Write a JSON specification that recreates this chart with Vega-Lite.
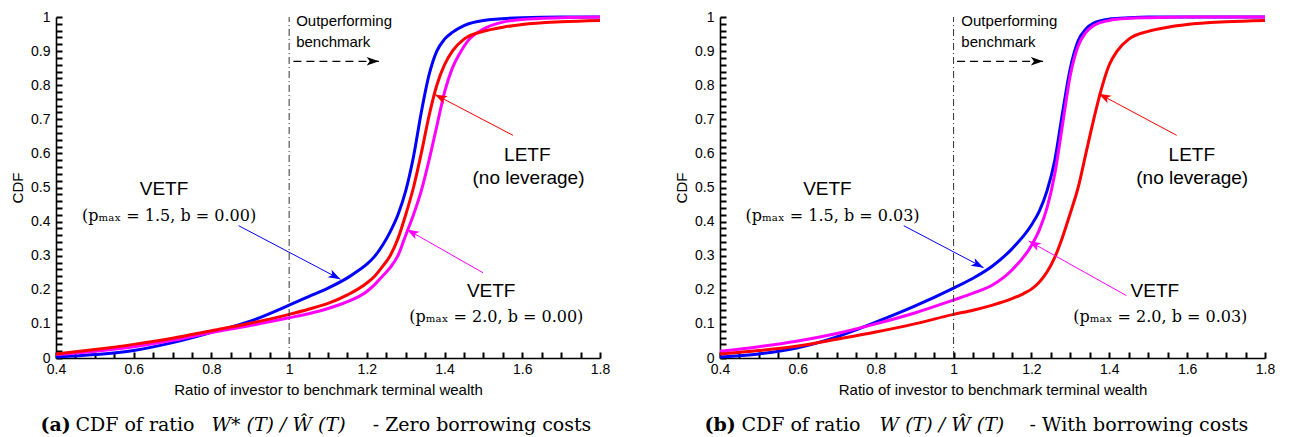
{
  "$schema": "https://vega.github.io/schema/vega-lite/v6.json",
  "background": "white",
  "padding": {"left": 10, "top": 10, "right": 0, "bottom": 0},
  "spacing": 120,
  "bounds": "flush",
  "config": {
    "view": {"stroke": null},
    "font": "Liberation Sans",
    "axis": {
      "grid": false,
      "domainColor": "black",
      "domainWidth": 1.6,
      "labelFont": "Liberation Sans",
      "labelFontSize": 14,
      "labelColor": "black",
      "labelOverlap": false,
      "labelFlush": false,
      "titleFont": "Liberation Sans",
      "titleFontSize": 15,
      "titleFontWeight": "normal",
      "titleColor": "black"
    }
  },
  "datasets": {
    "a_curves": [
      {"series":"VETF 1.5","ratio":0.4,"cdf":0.003},{"series":"VETF 1.5","ratio":0.5,"cdf":0.01},{"series":"VETF 1.5","ratio":0.6,"cdf":0.022},{"series":"VETF 1.5","ratio":0.7,"cdf":0.045},{"series":"VETF 1.5","ratio":0.8,"cdf":0.075},{"series":"VETF 1.5","ratio":0.9,"cdf":0.108},{"series":"VETF 1.5","ratio":1.0,"cdf":0.155},{"series":"VETF 1.5","ratio":1.05,"cdf":0.18},{"series":"VETF 1.5","ratio":1.1,"cdf":0.205},{"series":"VETF 1.5","ratio":1.15,"cdf":0.235},{"series":"VETF 1.5","ratio":1.18,"cdf":0.258},{"series":"VETF 1.5","ratio":1.2,"cdf":0.275},{"series":"VETF 1.5","ratio":1.22,"cdf":0.298},{"series":"VETF 1.5","ratio":1.24,"cdf":0.33},{"series":"VETF 1.5","ratio":1.26,"cdf":0.37},{"series":"VETF 1.5","ratio":1.28,"cdf":0.42},{"series":"VETF 1.5","ratio":1.3,"cdf":0.49},{"series":"VETF 1.5","ratio":1.32,"cdf":0.59},{"series":"VETF 1.5","ratio":1.34,"cdf":0.72},{"series":"VETF 1.5","ratio":1.36,"cdf":0.83},{"series":"VETF 1.5","ratio":1.38,"cdf":0.9},{"series":"VETF 1.5","ratio":1.4,"cdf":0.935},{"series":"VETF 1.5","ratio":1.42,"cdf":0.955},{"series":"VETF 1.5","ratio":1.45,"cdf":0.975},{"series":"VETF 1.5","ratio":1.5,"cdf":0.99},{"series":"VETF 1.5","ratio":1.6,"cdf":0.998},{"series":"VETF 1.5","ratio":1.7,"cdf":1.0},{"series":"VETF 1.5","ratio":1.8,"cdf":1.0},
      {"series":"VETF 2.0","ratio":0.4,"cdf":0.01},{"series":"VETF 2.0","ratio":0.5,"cdf":0.02},{"series":"VETF 2.0","ratio":0.6,"cdf":0.033},{"series":"VETF 2.0","ratio":0.7,"cdf":0.052},{"series":"VETF 2.0","ratio":0.8,"cdf":0.075},{"series":"VETF 2.0","ratio":0.9,"cdf":0.095},{"series":"VETF 2.0","ratio":1.0,"cdf":0.118},{"series":"VETF 2.0","ratio":1.05,"cdf":0.13},{"series":"VETF 2.0","ratio":1.1,"cdf":0.145},{"series":"VETF 2.0","ratio":1.15,"cdf":0.165},{"series":"VETF 2.0","ratio":1.2,"cdf":0.195},{"series":"VETF 2.0","ratio":1.22,"cdf":0.215},{"series":"VETF 2.0","ratio":1.24,"cdf":0.24},{"series":"VETF 2.0","ratio":1.26,"cdf":0.265},{"series":"VETF 2.0","ratio":1.28,"cdf":0.3},{"series":"VETF 2.0","ratio":1.3,"cdf":0.36},{"series":"VETF 2.0","ratio":1.32,"cdf":0.42},{"series":"VETF 2.0","ratio":1.34,"cdf":0.49},{"series":"VETF 2.0","ratio":1.36,"cdf":0.58},{"series":"VETF 2.0","ratio":1.38,"cdf":0.68},{"series":"VETF 2.0","ratio":1.4,"cdf":0.78},{"series":"VETF 2.0","ratio":1.42,"cdf":0.85},{"series":"VETF 2.0","ratio":1.44,"cdf":0.895},{"series":"VETF 2.0","ratio":1.46,"cdf":0.93},{"series":"VETF 2.0","ratio":1.5,"cdf":0.965},{"series":"VETF 2.0","ratio":1.55,"cdf":0.985},{"series":"VETF 2.0","ratio":1.6,"cdf":0.993},{"series":"VETF 2.0","ratio":1.7,"cdf":0.998},{"series":"VETF 2.0","ratio":1.8,"cdf":1.0},
      {"series":"LETF","ratio":0.4,"cdf":0.012},{"series":"LETF","ratio":0.5,"cdf":0.025},{"series":"LETF","ratio":0.6,"cdf":0.04},{"series":"LETF","ratio":0.7,"cdf":0.058},{"series":"LETF","ratio":0.8,"cdf":0.08},{"series":"LETF","ratio":0.9,"cdf":0.102},{"series":"LETF","ratio":1.0,"cdf":0.128},{"series":"LETF","ratio":1.05,"cdf":0.143},{"series":"LETF","ratio":1.1,"cdf":0.16},{"series":"LETF","ratio":1.15,"cdf":0.185},{"series":"LETF","ratio":1.2,"cdf":0.22},{"series":"LETF","ratio":1.22,"cdf":0.24},{"series":"LETF","ratio":1.24,"cdf":0.268},{"series":"LETF","ratio":1.26,"cdf":0.3},{"series":"LETF","ratio":1.28,"cdf":0.35},{"series":"LETF","ratio":1.3,"cdf":0.42},{"series":"LETF","ratio":1.32,"cdf":0.5},{"series":"LETF","ratio":1.34,"cdf":0.6},{"series":"LETF","ratio":1.36,"cdf":0.71},{"series":"LETF","ratio":1.38,"cdf":0.8},{"series":"LETF","ratio":1.4,"cdf":0.86},{"series":"LETF","ratio":1.42,"cdf":0.9},{"series":"LETF","ratio":1.45,"cdf":0.935},{"series":"LETF","ratio":1.5,"cdf":0.958},{"series":"LETF","ratio":1.55,"cdf":0.97},{"series":"LETF","ratio":1.6,"cdf":0.978},{"series":"LETF","ratio":1.7,"cdf":0.986},{"series":"LETF","ratio":1.8,"cdf":0.99}
    ],
    "b_curves": [
      {"series":"VETF 1.5","ratio":0.4,"cdf":0.003},{"series":"VETF 1.5","ratio":0.5,"cdf":0.012},{"series":"VETF 1.5","ratio":0.6,"cdf":0.03},{"series":"VETF 1.5","ratio":0.7,"cdf":0.062},{"series":"VETF 1.5","ratio":0.8,"cdf":0.105},{"series":"VETF 1.5","ratio":0.9,"cdf":0.152},{"series":"VETF 1.5","ratio":1.0,"cdf":0.205},{"series":"VETF 1.5","ratio":1.05,"cdf":0.234},{"series":"VETF 1.5","ratio":1.1,"cdf":0.27},{"series":"VETF 1.5","ratio":1.15,"cdf":0.32},{"series":"VETF 1.5","ratio":1.2,"cdf":0.39},{"series":"VETF 1.5","ratio":1.22,"cdf":0.43},{"series":"VETF 1.5","ratio":1.24,"cdf":0.49},{"series":"VETF 1.5","ratio":1.26,"cdf":0.58},{"series":"VETF 1.5","ratio":1.28,"cdf":0.72},{"series":"VETF 1.5","ratio":1.3,"cdf":0.85},{"series":"VETF 1.5","ratio":1.32,"cdf":0.93},{"series":"VETF 1.5","ratio":1.34,"cdf":0.965},{"series":"VETF 1.5","ratio":1.36,"cdf":0.982},{"series":"VETF 1.5","ratio":1.4,"cdf":0.994},{"series":"VETF 1.5","ratio":1.45,"cdf":0.998},{"series":"VETF 1.5","ratio":1.5,"cdf":1.0},{"series":"VETF 1.5","ratio":1.8,"cdf":1.0},
      {"series":"VETF 2.0","ratio":0.4,"cdf":0.02},{"series":"VETF 2.0","ratio":0.5,"cdf":0.033},{"series":"VETF 2.0","ratio":0.6,"cdf":0.05},{"series":"VETF 2.0","ratio":0.7,"cdf":0.072},{"series":"VETF 2.0","ratio":0.8,"cdf":0.1},{"series":"VETF 2.0","ratio":0.9,"cdf":0.132},{"series":"VETF 2.0","ratio":1.0,"cdf":0.17},{"series":"VETF 2.0","ratio":1.05,"cdf":0.19},{"series":"VETF 2.0","ratio":1.1,"cdf":0.214},{"series":"VETF 2.0","ratio":1.15,"cdf":0.258},{"series":"VETF 2.0","ratio":1.2,"cdf":0.33},{"series":"VETF 2.0","ratio":1.22,"cdf":0.375},{"series":"VETF 2.0","ratio":1.24,"cdf":0.44},{"series":"VETF 2.0","ratio":1.26,"cdf":0.54},{"series":"VETF 2.0","ratio":1.28,"cdf":0.685},{"series":"VETF 2.0","ratio":1.3,"cdf":0.83},{"series":"VETF 2.0","ratio":1.32,"cdf":0.915},{"series":"VETF 2.0","ratio":1.34,"cdf":0.955},{"series":"VETF 2.0","ratio":1.36,"cdf":0.975},{"series":"VETF 2.0","ratio":1.4,"cdf":0.99},{"series":"VETF 2.0","ratio":1.45,"cdf":0.996},{"series":"VETF 2.0","ratio":1.5,"cdf":0.998},{"series":"VETF 2.0","ratio":1.6,"cdf":1.0},{"series":"VETF 2.0","ratio":1.8,"cdf":1.0},
      {"series":"LETF","ratio":0.4,"cdf":0.012},{"series":"LETF","ratio":0.5,"cdf":0.022},{"series":"LETF","ratio":0.6,"cdf":0.035},{"series":"LETF","ratio":0.7,"cdf":0.055},{"series":"LETF","ratio":0.8,"cdf":0.076},{"series":"LETF","ratio":0.9,"cdf":0.1},{"series":"LETF","ratio":1.0,"cdf":0.128},{"series":"LETF","ratio":1.05,"cdf":0.14},{"series":"LETF","ratio":1.1,"cdf":0.155},{"series":"LETF","ratio":1.15,"cdf":0.174},{"series":"LETF","ratio":1.18,"cdf":0.189},{"series":"LETF","ratio":1.2,"cdf":0.202},{"series":"LETF","ratio":1.22,"cdf":0.222},{"series":"LETF","ratio":1.24,"cdf":0.252},{"series":"LETF","ratio":1.26,"cdf":0.295},{"series":"LETF","ratio":1.28,"cdf":0.355},{"series":"LETF","ratio":1.3,"cdf":0.425},{"series":"LETF","ratio":1.32,"cdf":0.5},{"series":"LETF","ratio":1.34,"cdf":0.6},{"series":"LETF","ratio":1.36,"cdf":0.7},{"series":"LETF","ratio":1.38,"cdf":0.79},{"series":"LETF","ratio":1.4,"cdf":0.86},{"series":"LETF","ratio":1.42,"cdf":0.9},{"series":"LETF","ratio":1.45,"cdf":0.935},{"series":"LETF","ratio":1.5,"cdf":0.958},{"series":"LETF","ratio":1.55,"cdf":0.97},{"series":"LETF","ratio":1.6,"cdf":0.978},{"series":"LETF","ratio":1.7,"cdf":0.986},{"series":"LETF","ratio":1.8,"cdf":0.99}
    ],
    "a_arrows": [
      {"series":"benchmark","x":1.011,"y":0.87,"x2":1.231,"y2":0.87},
      {"series":"VETF 1.5","x":0.87,"y":0.388,"x2":1.132,"y2":0.231},
      {"series":"LETF","x":1.576,"y":0.653,"x2":1.375,"y2":0.773},
      {"series":"VETF 2.0","x":1.499,"y":0.25,"x2":1.303,"y2":0.377}
    ],
    "b_arrows": [
      {"series":"benchmark","x":1.009,"y":0.87,"x2":1.23,"y2":0.87},
      {"series":"VETF 1.5","x":0.872,"y":0.388,"x2":1.077,"y2":0.265},
      {"series":"LETF","x":1.573,"y":0.653,"x2":1.373,"y2":0.775},
      {"series":"VETF 2.0","x":1.444,"y":0.183,"x2":1.193,"y2":0.343}
    ],
    "a_notes": [
      {"x":1.018,"y":0.988,"text":"Outperforming"},
      {"x":1.018,"y":0.928,"text":"benchmark"}
    ],
    "b_notes": [
      {"x":1.02,"y":0.988,"text":"Outperforming"},
      {"x":1.02,"y":0.928,"text":"benchmark"}
    ],
    "a_names": [
      {"x":0.678,"y":0.495,"text":"VETF"},
      {"x":1.613,"y":0.595,"text":"LETF"},
      {"x":1.616,"y":0.527,"text":"(no leverage)"},
      {"x":1.52,"y":0.197,"text":"VETF"}
    ],
    "b_names": [
      {"x":0.676,"y":0.495,"text":"VETF"},
      {"x":1.612,"y":0.595,"text":"LETF"},
      {"x":1.613,"y":0.527,"text":"(no leverage)"},
      {"x":1.517,"y":0.197,"text":"VETF"}
    ],
    "a_params": [
      {"x":0.691,"y":0.417,"text":"(pₘₐₓ = 1.5, b = 0.00)"},
      {"x":1.533,"y":0.119,"text":"(pₘₐₓ = 2.0, b = 0.00)"}
    ],
    "b_params": [
      {"x":0.689,"y":0.417,"text":"(pₘₐₓ = 1.5, b = 0.03)"},
      {"x":1.531,"y":0.119,"text":"(pₘₐₓ = 2.0, b = 0.03)"}
    ],
    "a_caption": [
      {"part":"tag","x":0.36,"y":-0.196,"text":"(a)"},
      {"part":"text","x":0.45,"y":-0.196,"text":"CDF of ratio"},
      {"part":"math","x":0.8,"y":-0.196,"text":"W* (T) / Ŵ (T)"},
      {"part":"text","x":1.215,"y":-0.196,"text":"- Zero borrowing costs"}
    ],
    "b_caption": [
      {"part":"tag","x":0.36,"y":-0.196,"text":"(b)"},
      {"part":"text","x":0.455,"y":-0.196,"text":"CDF of ratio"},
      {"part":"math","x":0.81,"y":-0.196,"text":"W (T) / Ŵ (T)"},
      {"part":"text","x":1.195,"y":-0.196,"text":"- With borrowing costs"}
    ]
  },
  "hconcat": [
    {
      "width": 544,
      "height": 341,
      "layer": [
        {
          "data": {"name": "a_curves"},
          "mark": {"type": "line", "strokeWidth": 3, "interpolate": "monotone"},
          "encoding": {
            "x": {"field": "ratio", "type": "quantitative", "scale": {"domain": [0.4, 1.8], "nice": false, "zero": false},
              "axis": {"title": "Ratio of investor to benchmark terminal wealth",
                "values": [0.4,0.45,0.5,0.55,0.6,0.65,0.7,0.75,0.8,0.85,0.9,0.95,1,1.05,1.1,1.15,1.2,1.25,1.3,1.35,1.4,1.45,1.5,1.55,1.6,1.65,1.7,1.75,1.8],
                "tickCount": 200,
                "labelExpr": "abs(datum.value*5-round(datum.value*5))<0.001 ? format(datum.value,'~g') : ''",
                "ticks": true, "tickColor": "black", "tickWidth": 2, "tickOpacity": 1, "tickSize": -6,
                "labelPadding": 10, "titlePadding": 6}},
            "y": {"field": "cdf", "type": "quantitative", "scale": {"domain": [0, 1], "nice": false},
              "axis": {"title": "CDF",
                "values": [0,0.02,0.04,0.06,0.08,0.1,0.12,0.14,0.16,0.18,0.2,0.22,0.24,0.26,0.28,0.3,0.32,0.34,0.36,0.38,0.4,0.42,0.44,0.46,0.48,0.5,0.52,0.54,0.56,0.58,0.6,0.62,0.64,0.66,0.68,0.7,0.72,0.74,0.76,0.78,0.8,0.82,0.84,0.86,0.88,0.9,0.92,0.94,0.96,0.98,1],
                "tickCount": 200,
                "labelExpr": "abs(datum.value*10-round(datum.value*10))<0.001 ? format(datum.value,'~g') : ''",
                "ticks": true, "tickColor": "black", "tickWidth": 2, "tickOpacity": 1, "tickSize": -6,
                "labelPadding": 12, "titlePadding": 5}},
            "color": {"field": "series", "type": "nominal", "scale": {"domain": ["VETF 1.5", "LETF", "VETF 2.0", "benchmark"], "range": ["#0000ff", "#ff0000", "#ff00ff", "#000000"]}, "legend": null}
          }
        },
        {
          "data": {"values": [{}]},
          "mark": {"type": "rule", "color": "#333333", "strokeWidth": 1, "strokeDash": [7, 3, 1, 3]},
          "encoding": {
            "x": {"datum": 1, "type": "quantitative"},
            "y": {"datum": 0, "type": "quantitative"},
            "y2": {"datum": 1}
          }
        },
        {
          "data": {"name": "a_arrows"},
          "transform": [{"filter": "datum.series != 'benchmark'"}],
          "mark": {"type": "rule", "strokeWidth": 1},
          "encoding": {
            "x": {"field": "x", "type": "quantitative"},
            "y": {"field": "y", "type": "quantitative"},
            "x2": {"field": "x2"},
            "y2": {"field": "y2"},
            "color": {"field": "series", "type": "nominal", "legend": null}
          }
        },
        {
          "data": {"name": "a_arrows"},
          "transform": [{"filter": "datum.series == 'benchmark'"}],
          "mark": {"type": "rule", "strokeWidth": 1.2, "strokeDash": [8, 5], "color": "black"},
          "encoding": {
            "x": {"field": "x", "type": "quantitative"},
            "y": {"field": "y", "type": "quantitative"},
            "x2": {"field": "x2"},
            "y2": {"field": "y2"}
          }
        },
        {
          "data": {"name": "a_arrows"},
          "transform": [{"calculate": "atan2((datum.x2-datum.x)*388.6, (datum.y2-datum.y)*341)*180/PI", "as": "angle"}],
          "mark": {"type": "point", "shape": "M0,0L0.7,2L0,1.5L-0.7,2Z", "filled": true, "opacity": 1, "size": 150, "strokeWidth": 0},
          "encoding": {
            "x": {"field": "x2", "type": "quantitative"},
            "y": {"field": "y2", "type": "quantitative"},
            "color": {"field": "series", "type": "nominal", "legend": null},
            "angle": {"field": "angle", "type": "quantitative", "scale": null}
          }
        },
        {
          "data": {"name": "a_notes"},
          "mark": {"type": "text", "font": "Liberation Sans", "fontSize": 15, "align": "left", "baseline": "middle", "color": "black"},
          "encoding": {"x": {"field": "x", "type": "quantitative"}, "y": {"field": "y", "type": "quantitative"}, "text": {"field": "text"}}
        },
        {
          "data": {"name": "a_names"},
          "mark": {"type": "text", "font": "Liberation Sans", "fontSize": 19, "align": "center", "baseline": "middle", "color": "black"},
          "encoding": {"x": {"field": "x", "type": "quantitative"}, "y": {"field": "y", "type": "quantitative"}, "text": {"field": "text"}}
        },
        {
          "data": {"name": "a_params"},
          "mark": {"type": "text", "font": "DejaVu Serif", "fontSize": 16, "align": "center", "baseline": "middle", "color": "black"},
          "encoding": {"x": {"field": "x", "type": "quantitative"}, "y": {"field": "y", "type": "quantitative"}, "text": {"field": "text"}}
        },
        {
          "data": {"name": "a_caption"},
          "transform": [{"filter": "datum.part == 'tag'"}],
          "mark": {"type": "text", "font": "DejaVu Serif", "fontSize": 19, "fontWeight": "bold", "align": "left", "baseline": "middle", "color": "black"},
          "encoding": {"x": {"field": "x", "type": "quantitative"}, "y": {"field": "y", "type": "quantitative"}, "text": {"field": "text"}}
        },
        {
          "data": {"name": "a_caption"},
          "transform": [{"filter": "datum.part == 'text'"}],
          "mark": {"type": "text", "font": "DejaVu Serif", "fontSize": 19, "align": "left", "baseline": "middle", "color": "black"},
          "encoding": {"x": {"field": "x", "type": "quantitative"}, "y": {"field": "y", "type": "quantitative"}, "text": {"field": "text"}}
        },
        {
          "data": {"name": "a_caption"},
          "transform": [{"filter": "datum.part == 'math'"}],
          "mark": {"type": "text", "font": "DejaVu Serif", "fontSize": 19, "fontStyle": "italic", "align": "left", "baseline": "middle", "color": "black"},
          "encoding": {"x": {"field": "x", "type": "quantitative"}, "y": {"field": "y", "type": "quantitative"}, "text": {"field": "text"}}
        }
      ]
    },
    {
      "width": 545,
      "height": 341,
      "layer": [
        {
          "data": {"name": "b_curves"},
          "mark": {"type": "line", "strokeWidth": 3, "interpolate": "monotone"},
          "encoding": {
            "x": {"field": "ratio", "type": "quantitative", "scale": {"domain": [0.4, 1.8], "nice": false, "zero": false},
              "axis": {"title": "Ratio of investor to benchmark terminal wealth",
                "values": [0.4,0.45,0.5,0.55,0.6,0.65,0.7,0.75,0.8,0.85,0.9,0.95,1,1.05,1.1,1.15,1.2,1.25,1.3,1.35,1.4,1.45,1.5,1.55,1.6,1.65,1.7,1.75,1.8],
                "tickCount": 200,
                "labelExpr": "abs(datum.value*5-round(datum.value*5))<0.001 ? format(datum.value,'~g') : ''",
                "ticks": true, "tickColor": "black", "tickWidth": 2, "tickOpacity": 1, "tickSize": -6,
                "labelPadding": 10, "titlePadding": 6}},
            "y": {"field": "cdf", "type": "quantitative", "scale": {"domain": [0, 1], "nice": false},
              "axis": {"title": "CDF",
                "values": [0,0.02,0.04,0.06,0.08,0.1,0.12,0.14,0.16,0.18,0.2,0.22,0.24,0.26,0.28,0.3,0.32,0.34,0.36,0.38,0.4,0.42,0.44,0.46,0.48,0.5,0.52,0.54,0.56,0.58,0.6,0.62,0.64,0.66,0.68,0.7,0.72,0.74,0.76,0.78,0.8,0.82,0.84,0.86,0.88,0.9,0.92,0.94,0.96,0.98,1],
                "tickCount": 200,
                "labelExpr": "abs(datum.value*10-round(datum.value*10))<0.001 ? format(datum.value,'~g') : ''",
                "ticks": true, "tickColor": "black", "tickWidth": 2, "tickOpacity": 1, "tickSize": -6,
                "labelPadding": 12, "titlePadding": 5}},
            "color": {"field": "series", "type": "nominal", "scale": {"domain": ["VETF 1.5", "LETF", "VETF 2.0", "benchmark"], "range": ["#0000ff", "#ff0000", "#ff00ff", "#000000"]}, "legend": null}
          }
        },
        {
          "data": {"values": [{}]},
          "mark": {"type": "rule", "color": "#333333", "strokeWidth": 1, "strokeDash": [7, 3, 1, 3]},
          "encoding": {
            "x": {"datum": 1, "type": "quantitative"},
            "y": {"datum": 0, "type": "quantitative"},
            "y2": {"datum": 1}
          }
        },
        {
          "data": {"name": "b_arrows"},
          "transform": [{"filter": "datum.series != 'benchmark'"}],
          "mark": {"type": "rule", "strokeWidth": 1},
          "encoding": {
            "x": {"field": "x", "type": "quantitative"},
            "y": {"field": "y", "type": "quantitative"},
            "x2": {"field": "x2"},
            "y2": {"field": "y2"},
            "color": {"field": "series", "type": "nominal", "legend": null}
          }
        },
        {
          "data": {"name": "b_arrows"},
          "transform": [{"filter": "datum.series == 'benchmark'"}],
          "mark": {"type": "rule", "strokeWidth": 1.2, "strokeDash": [8, 5], "color": "black"},
          "encoding": {
            "x": {"field": "x", "type": "quantitative"},
            "y": {"field": "y", "type": "quantitative"},
            "x2": {"field": "x2"},
            "y2": {"field": "y2"}
          }
        },
        {
          "data": {"name": "b_arrows"},
          "transform": [{"calculate": "atan2((datum.x2-datum.x)*389.3, (datum.y2-datum.y)*341)*180/PI", "as": "angle"}],
          "mark": {"type": "point", "shape": "M0,0L0.7,2L0,1.5L-0.7,2Z", "filled": true, "opacity": 1, "size": 150, "strokeWidth": 0},
          "encoding": {
            "x": {"field": "x2", "type": "quantitative"},
            "y": {"field": "y2", "type": "quantitative"},
            "color": {"field": "series", "type": "nominal", "legend": null},
            "angle": {"field": "angle", "type": "quantitative", "scale": null}
          }
        },
        {
          "data": {"name": "b_notes"},
          "mark": {"type": "text", "font": "Liberation Sans", "fontSize": 15, "align": "left", "baseline": "middle", "color": "black"},
          "encoding": {"x": {"field": "x", "type": "quantitative"}, "y": {"field": "y", "type": "quantitative"}, "text": {"field": "text"}}
        },
        {
          "data": {"name": "b_names"},
          "mark": {"type": "text", "font": "Liberation Sans", "fontSize": 19, "align": "center", "baseline": "middle", "color": "black"},
          "encoding": {"x": {"field": "x", "type": "quantitative"}, "y": {"field": "y", "type": "quantitative"}, "text": {"field": "text"}}
        },
        {
          "data": {"name": "b_params"},
          "mark": {"type": "text", "font": "DejaVu Serif", "fontSize": 16, "align": "center", "baseline": "middle", "color": "black"},
          "encoding": {"x": {"field": "x", "type": "quantitative"}, "y": {"field": "y", "type": "quantitative"}, "text": {"field": "text"}}
        },
        {
          "data": {"name": "b_caption"},
          "transform": [{"filter": "datum.part == 'tag'"}],
          "mark": {"type": "text", "font": "DejaVu Serif", "fontSize": 19, "fontWeight": "bold", "align": "left", "baseline": "middle", "color": "black"},
          "encoding": {"x": {"field": "x", "type": "quantitative"}, "y": {"field": "y", "type": "quantitative"}, "text": {"field": "text"}}
        },
        {
          "data": {"name": "b_caption"},
          "transform": [{"filter": "datum.part == 'text'"}],
          "mark": {"type": "text", "font": "DejaVu Serif", "fontSize": 19, "align": "left", "baseline": "middle", "color": "black"},
          "encoding": {"x": {"field": "x", "type": "quantitative"}, "y": {"field": "y", "type": "quantitative"}, "text": {"field": "text"}}
        },
        {
          "data": {"name": "b_caption"},
          "transform": [{"filter": "datum.part == 'math'"}],
          "mark": {"type": "text", "font": "DejaVu Serif", "fontSize": 19, "fontStyle": "italic", "align": "left", "baseline": "middle", "color": "black"},
          "encoding": {"x": {"field": "x", "type": "quantitative"}, "y": {"field": "y", "type": "quantitative"}, "text": {"field": "text"}}
        }
      ]
    }
  ]
}
